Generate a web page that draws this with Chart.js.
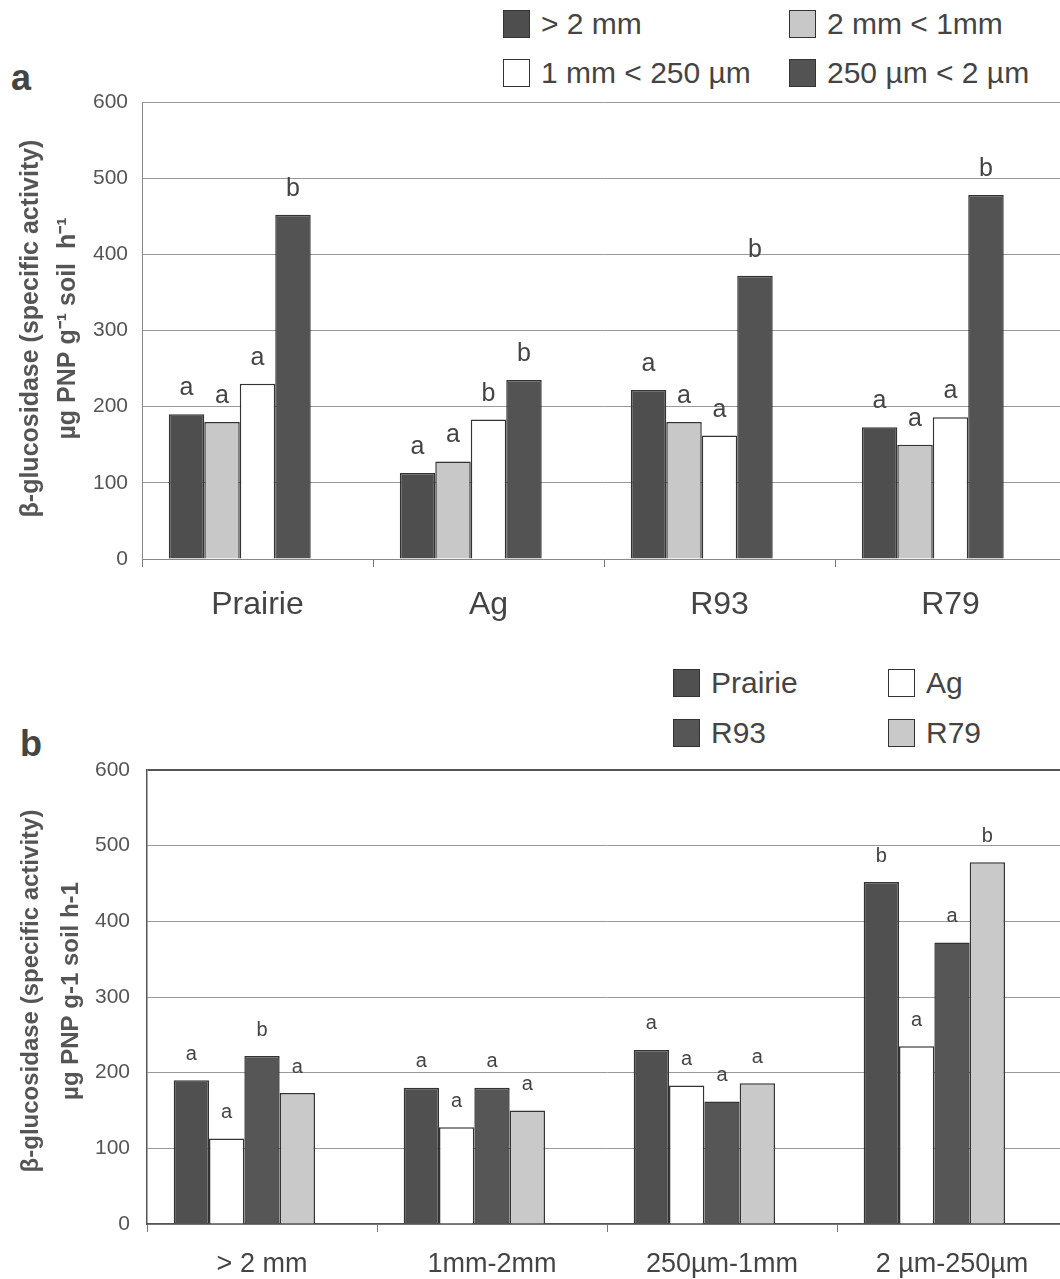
<!DOCTYPE html>
<html>
<head>
<meta charset="utf-8">
<script src="https://cdn.jsdelivr.net/npm/chart.js@4.4.0/dist/chart.umd.min.js"></script>
<style>
  html, body { margin: 0; padding: 0; background: #fff; overflow: hidden; }
  body { width: 1060px; height: 1279px; position: relative; font-family: "Liberation Sans", Arial, sans-serif; color: #444; }
  canvas { position: absolute; left: 0; }
  #chartA { top: 0; }
  #chartB { top: 640px; }
  .panel { position: absolute; font-weight: bold; font-size: 36px; color: #444; line-height: 1; }
  .item { position: absolute; white-space: nowrap; font-size: 30px; color: #444; line-height: 28px; }
  .box { display: inline-block; width: 27px; height: 28px; border: 1.5px solid #333; box-sizing: border-box; vertical-align: top; margin-right: 11px; }
</style>
</head>
<body>
<div class="panel" style="left:11px;top:60px;">a</div>
<div class="panel" style="left:20px;top:726px;">b</div>
<div id="legendA"></div>
<div id="legendB"></div>
<canvas id="chartA" width="1066" height="640"></canvas>
<canvas id="chartB" width="1067" height="639"></canvas>

<script>
// sites and size fractions
const sites = ['Prairie', 'Ag', 'R93', 'R79'];
const fractionsA = ['> 2 mm', '2 mm < 1mm', '1 mm < 250 µm', '250 µm < 2 µm'];
const fractionsB = ['> 2 mm', '1mm-2mm', '250µm-1mm', '2 µm-250µm'];

// beta-glucosidase per site, one value per fraction (>2mm, 1-2mm, 250um-1mm, 2-250um)
const prairie = [190, 180, 230, 452];
const ag      = [113, 128, 183, 235];
const r93     = [222, 180, 162, 372];
const r79     = [173, 150, 186, 478];

// significance letters, panel a (per fraction, across sites)
const lettersA = [
  ['a', 'a', 'a', 'a'],
  ['a', 'a', 'a', 'a'],
  ['a', 'b', 'a', 'a'],
  ['b', 'b', 'b', 'b']
];
// significance letters, panel b (per site, across fractions)
const lettersB = [
  ['a', 'a', 'a', 'b'],
  ['a', 'a', 'a', 'a'],
  ['b', 'a', 'a', 'a'],
  ['a', 'a', 'a', 'b']
];

const yTicks = [0, 100, 200, 300, 400, 500, 600];

const bySite = [prairie, ag, r93, r79];
const colorsA = ['#4e4e4e', '#c8c8c8', '#ffffff', '#535353'];
const colorsB = ['#505050', '#ffffff', '#565656', '#c9c9c9'];

// panel a: one dataset per fraction
const setsA = fractionsA.map((f, i) => ({
  label: f,
  data: bySite.map(s => s[i]),
  color: colorsA[i],
  letters: lettersA[i]
}));
// panel b: one dataset per site
const setsB = sites.map((s, i) => ({
  label: s,
  data: bySite[i],
  color: colorsB[i],
  letters: lettersB[i]
}));

function drawLegend(id, sets, cols, rows) {
  const el = document.getElementById(id);
  el.innerHTML = sets.map((s, i) => {
    const x = cols[i % 2], y = rows[Math.floor(i / 2)];
    return `<div class="item" style="left:${x}px;top:${y}px;"><span class="box" style="background:${s.color}"></span>${s.label}</div>`;
  }).join('');
}

const letterPlugin = {
  id: 'letters',
  afterDatasetsDraw(chart, args, opts) {
    const c = chart.ctx;
    c.save();
    c.font = `${opts.size}px "Liberation Sans", Arial, sans-serif`;
    c.fillStyle = '#444';
    c.textAlign = 'center';
    c.textBaseline = 'middle';
    chart.data.datasets.forEach((ds, i) => {
      if (!ds.letters) return;
      chart.getDatasetMeta(i).data.forEach((bar, j) => {
        c.fillText(ds.letters[j], bar.x, bar.y - opts.gap);
      });
    });
    c.restore();
  }
};

const yTitlePlugin = {
  id: 'yTitle',
  afterDraw(chart, args, opts) {
    const c = chart.ctx;
    const area = chart.chartArea;
    c.save();
    c.font = `bold ${opts.size}px "Liberation Sans", Arial, sans-serif`;
    c.fillStyle = '#555';
    c.textAlign = 'center';
    c.textBaseline = 'middle';
    opts.lines.forEach((t, k) => {
      c.save();
      c.translate(opts.xs[k], (area.top + area.bottom) / 2 + opts.dy);
      c.rotate(-Math.PI / 2);
      c.fillText(t, 0, 0);
      c.restore();
    });
    c.restore();
  }
};

function buildChart(id, cats, sets, cfg) {
  const ctx = document.getElementById(id).getContext('2d');
  const datasets = sets.map(s => ({
    label: s.label,
    data: s.data,
    letters: s.letters,
    backgroundColor: s.color,
    borderColor: '#333',
    borderWidth: 1.5,
    borderSkipped: 'bottom'
  }));
  // empty fifth slot, the original leaves room for one more bar on the right
  datasets.push({ label: '', data: [], backgroundColor: 'rgba(0,0,0,0)', borderWidth: 0 });
  return new Chart(ctx, {
    type: 'bar',
    data: { labels: cats, datasets: datasets },
    options: {
      responsive: false,
      animation: false,
      datasets: { bar: { categoryPercentage: 0.768, barPercentage: 1 } },
      layout: { padding: { top: cfg.top, left: 0, right: 0, bottom: 0 } },
      plugins: {
        legend: { display: false },
        tooltip: { enabled: false },
        letters: { size: cfg.letterSize, gap: 26 },
        yTitle: { lines: cfg.yLines, xs: cfg.yXs, size: cfg.ySize, dy: cfg.yDy }
      },
      scales: {
        x: {
          grid: { offset: true, drawOnChartArea: false, drawTicks: true, tickLength: 8, color: '#777' },
          border: { color: cfg.axisColor, width: cfg.axisWidth },
          ticks: { font: { size: cfg.xFont, family: '"Liberation Sans", Arial, sans-serif' }, color: '#444', padding: cfg.xPad, maxRotation: 0 },
          afterFit: s => { s.height = cfg.xH; }
        },
        y: {
          min: 0,
          max: 600,
          afterBuildTicks: s => { s.ticks = yTicks.map(v => ({ value: v })); },
          ticks: { font: { size: 21, family: '"Liberation Sans", Arial, sans-serif' }, color: '#555', padding: cfg.yPad },
          grid: {
            drawTicks: false,
            color: c => (c.tick && c.tick.value === 600) ? cfg.topColor : '#999',
            lineWidth: c => (c.tick && c.tick.value === 600) ? cfg.topWidth : 1
          },
          border: { color: cfg.axisColor, width: cfg.axisWidth },
          afterFit: s => { s.width = cfg.left; }
        }
      }
    },
    plugins: [letterPlugin, yTitlePlugin]
  });
}

drawLegend('legendA', setsA, [503, 789], [10, 59]);
drawLegend('legendB', setsB, [673, 888], [669, 719]);

buildChart('chartA', sites, setsA, {
  top: 102, left: 142, xH: 81, xFont: 32, xPad: 19,
  yPad: 14, letterSize: 25, axisColor: '#888', axisWidth: 1,
  topColor: '#999', topWidth: 1,
  yLines: ['β-glucosidase (specific activity)', 'µg PNP g⁻¹ soil  h⁻¹'],
  yXs: [31, 68], ySize: 25, yDy: -2
});

buildChart('chartB', fractionsB, setsB, {
  top: 130, left: 147, xH: 55, xFont: 27, xPad: 16,
  yPad: 17, letterSize: 20, axisColor: '#555', axisWidth: 1.5,
  topColor: '#555', topWidth: 2,
  yLines: ['β-glucosidase (specific activity)', 'µg PNP g-1 soil h-1'],
  yXs: [31, 71], ySize: 24, yDy: -6
});
</script>
</body>
</html>
